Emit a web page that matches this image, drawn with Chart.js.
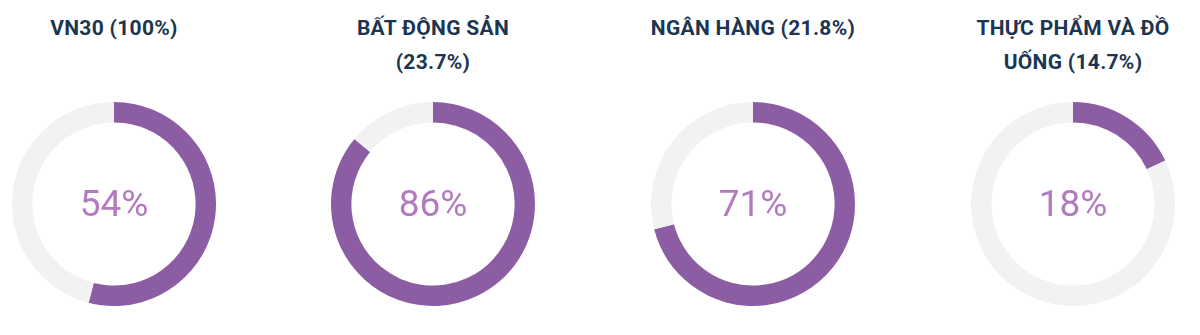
<!DOCTYPE html>
<html lang="vi">
<head>
    <meta charset="UTF-8">
    <title>Tỷ trọng ngành</title>
    <script src="https://cdn.jsdelivr.net/npm/chart.js@4.4.0/dist/chart.umd.min.js"></script>
    <style>
        body{
            margin: 0;
            width: 1200px;
            height: 335px;
            background: #fff;
            font-family: Roboto, "Noto Sans", sans-serif;
            position: relative;
            overflow: hidden;
        }
        .col{
            position: absolute;
            top: 0;
            width: 280px;
            height: 335px;
        }
        .title{
            position: absolute;
            top: 11px;
            left: 0;
            width: 280px;
            text-align: center;
            font-weight: 700;
            font-size: 21px;
            letter-spacing: 0.3px;
            line-height: 34px;
            color: #1c3550;
            white-space: pre-line;
        }
        .chartBox{
            position: absolute;
            top: 102px;
            left: 38px;
            width: 204px;
            height: 204px;
        }
    </style>
</head>
<body>
</body>
</html>

<script>
    // data
    var titles = ['VN30 (100%)', 'BẤT ĐỘNG SẢN\n(23.7%)', 'NGÂN HÀNG (21.8%)', 'THỰC PHẨM VÀ ĐỒ\nUỐNG (14.7%)'];
    var shares = [54, 86, 71, 18];
    var centers = [114, 433, 753, 1073];

    var purple = '#8d5da3';
    var grey = '#f2f2f2';

    // draws the percentage in the hole
    var centerText = {
        id: 'centerText',
        afterDraw: function(chart){
            var ctx = chart.ctx;
            var meta = chart.getDatasetMeta(0).data[0];
            ctx.save();
            ctx.font = '400 37px Roboto, sans-serif';
            ctx.fillStyle = '#b27bc0';
            ctx.textAlign = 'center';
            ctx.textBaseline = 'middle';
            ctx.fillText(chart.data.datasets[0].data[0] + '%', meta.x, meta.y + 3);
            ctx.restore();
        }
    };

    for (let i = 0; i < shares.length; i++) {
        let col = document.createElement('div');
        col.className = 'col';
        col.style.left = (centers[i] - 140) + 'px';

        let t = document.createElement('div');
        t.className = 'title';
        t.textContent = titles[i];
        col.appendChild(t);

        let box = document.createElement('div');
        box.className = 'chartBox';
        let canvas = document.createElement('canvas');
        box.appendChild(canvas);
        col.appendChild(box);
        document.body.appendChild(col);

        new Chart(canvas, {
            type: 'doughnut',
            data: {
                labels: ['Tăng', 'Còn lại'],
                datasets: [{
                    data: [shares[i], 100 - shares[i]],
                    backgroundColor: [purple, grey],
                    borderWidth: 0
                }]
            },
            options: {
                responsive: true,
                maintainAspectRatio: false,
                animation: false,
                cutout: '80%',
                plugins: {
                    legend: { display: false },
                    tooltip: { enabled: false }
                }
            },
            plugins: [centerText]
        });
    }
</script>
